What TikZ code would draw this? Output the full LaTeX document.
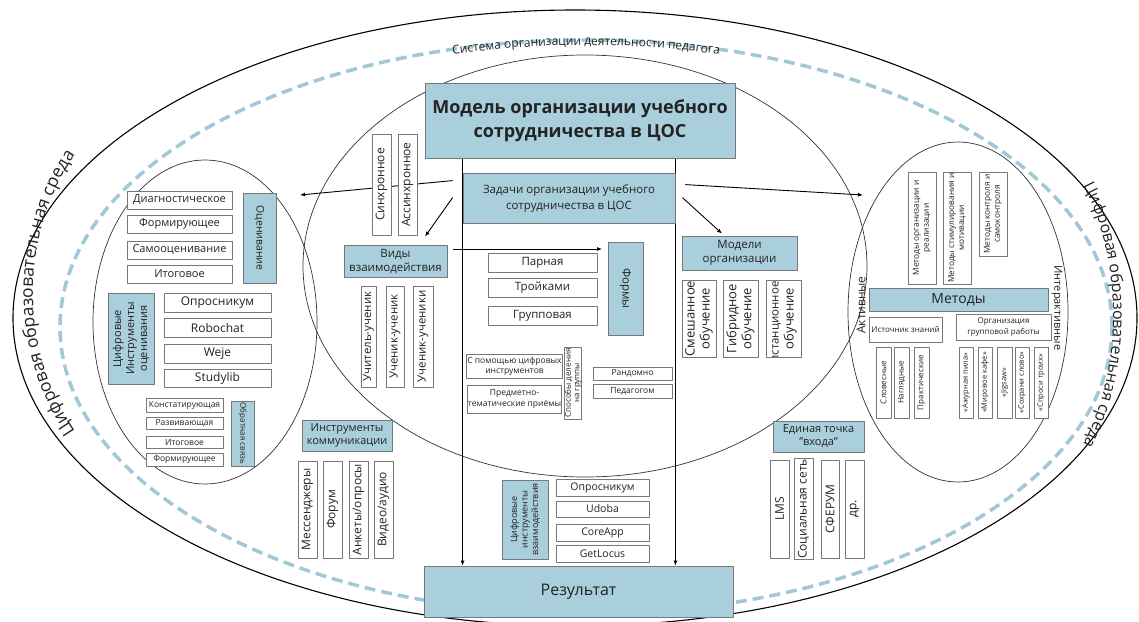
\documentclass[tikz,border=0pt]{standalone}
\usepackage{fontspec}
\setmainfont{Open Sans}
\usetikzlibrary{arrows.meta,calc,decorations.text}
\definecolor{lblue}{RGB}{170,207,220}
\definecolor{dashblue}{RGB}{160,200,215}
\definecolor{edge}{RGB}{120,120,120}
\definecolor{ink}{RGB}{35,35,35}
\pgfdeclarelayer{bg}
\pgfsetlayers{bg,main}

\newcommand\fsz[2]{\fontsize{#1}{#2}\selectfont}
% box given by its corners (x to the right, y downwards)
\newcommand\bx[7]{%
  \pgfmathsetmacro\bxcx{(#3+#5)/2}\pgfmathsetmacro\bxcy{-(#4+#6)/2}%
  \pgfmathsetmacro\bxw{#5-#3}\pgfmathsetmacro\bxh{#6-#4}%
  \node[#1, minimum width=\bxw pt, minimum height=\bxh pt] (#2) at (\bxcx,\bxcy) {#7};}
% upright box with turned text
\newcommand\vbx[8][90]{%
  \pgfmathsetmacro\bxcx{(#4+#6)/2}\pgfmathsetmacro\bxcy{-(#5+#7)/2}%
  \pgfmathsetmacro\bxw{#6-#4}\pgfmathsetmacro\bxh{#7-#5}%
  \node[#2, rotate=#1, minimum width=\bxh pt, minimum height=\bxw pt] (#3) at (\bxcx,\bxcy) {#8};}

\tikzset{
  wbox/.style={draw=edge, fill=white, line width=0.8pt, inner sep=0.5pt, align=center, text=ink},
  bbox/.style={draw=edge, fill=lblue, line width=0.8pt, inner sep=0.5pt, align=center, text=ink},
  arr/.style={line width=0.9pt, -{Latex[length=5pt,width=4pt]}},
  oval/.style={draw=black!80, line width=0.7pt},
}

\begin{document}
\begin{tikzpicture}[x=1pt,y=1pt,line join=round]
\useasboundingbox (0,0) rectangle (1139,-621);

% ---------- central model ----------
\bx{bbox, font=\fsz{18}{24}\bfseries}{title}{425}{83}{735}{158}{Модель организации учебного\\сотрудничества в ЦОС}
\bx{bbox, font=\fsz{11.5}{16}}{zad}{463}{173}{675}{223}{Задачи организации учебного\\сотрудничества в ЦОС}
\vbx{wbox, font=\fsz{12}{14}}{sync}{372}{134}{391}{235}{Синхронное}
\vbx{wbox, font=\fsz{12}{14}}{async}{398}{134}{417}{235}{Ассинхронное}
\bx{bbox, font=\fsz{11.5}{14}}{vidy}{344}{245}{447}{277}{Виды\\взаимодействия}
\vbx{wbox, font=\fsz{11.5}{13}}{uu1}{361}{286}{376}{387}{Учитель-ученик}
\vbx{wbox, font=\fsz{11.5}{13}}{uu2}{386}{286}{404}{387}{Ученик-ученик}
\vbx{wbox, font=\fsz{11.5}{13}}{uu3}{413}{286}{433}{387}{Ученик-ученики}
\vbx[-90]{bbox, font=\fsz{11.5}{13}}{formy}{608}{242}{643}{335}{Формы}
\bx{wbox, font=\fsz{11.5}{13}}{par}{488}{253}{597}{272}{Парная}
\bx{wbox, font=\fsz{11.5}{13}}{tro}{488}{278}{597}{297}{Тройками}
\bx{wbox, font=\fsz{11.5}{13}}{grp}{488}{306}{597}{325}{Групповая}
\bx{wbox, font=\fsz{8.5}{10}}{pom}{468}{354}{561}{378}{С помощью цифровых\\инструментов}
\bx{wbox, font=\fsz{8.5}{11}}{pred}{468}{385}{561}{413}{Предметно-\\тематические приёмы}
\vbx{wbox, font=\fsz{8}{8.5}}{spos}{565}{347}{581}{419}{Способы деления\\на группы}
\bx{wbox, font=\fsz{8.5}{10}}{rand}{593}{367}{672}{380}{Рандомно}
\bx{wbox, font=\fsz{8.5}{10}}{ped}{593}{384}{672}{398}{Педагогом}
\bx{bbox, font=\fsz{11.5}{14}}{model}{682}{236}{797}{270}{Модели\\организации}
\vbx{wbox, font=\fsz{13}{15}}{smesh}{682}{280}{716}{357}{Смешанное\\обучение}
\vbx{wbox, font=\fsz{13}{15}}{gibr}{723}{280}{758}{357}{Гибридное\\обучение}
% the long word is cut by the frame at its start
\vbx{wbox, path picture={\node[rotate=90, font=\fsz{11.5}{15}, align=center, text=ink]
    at (path picture bounding box.center) {\makebox[74pt][r]{Дистанционное}\\\fsz{13}{15}обучение};}}{dist}{766}{280}{801}{357}{}

% ---------- assessment ----------
\bx{wbox, font=\fsz{11}{13}}{diag}{127}{191}{232}{209}{Диагностическое}
\bx{wbox, font=\fsz{11}{13}}{form1}{127}{215}{232}{233}{Формирующее}
\bx{wbox, font=\fsz{11}{13}}{samo}{127}{241}{232}{259}{Самооценивание}
\bx{wbox, font=\fsz{11}{13}}{itog1}{127}{265}{232}{283}{Итоговое}
\vbx[-90]{bbox, font=\fsz{10.5}{12}}{ocen}{243}{193}{276}{283}{Оценивание}
\vbx{bbox, font=\fsz{11}{13}}{cifr}{108}{293}{154}{384}{Цифровые\\Инструменты\\оценивания}
\bx{wbox, font=\fsz{12}{14}}{opr1}{164}{293}{271}{312}{Опросникум}
\bx{wbox, font=\fsz{12}{14}}{robo}{164}{318}{271}{337}{Robochat}
\bx{wbox, font=\fsz{12}{14}}{weje}{164}{344}{271}{363}{Weje}
\bx{wbox, font=\fsz{12}{14}}{stud}{164}{369}{271}{387}{Studylib}
\bx{wbox, font=\fsz{8.5}{10}}{kons}{146}{398}{223}{412}{Констатирующая}
\bx{wbox, font=\fsz{8.5}{10}}{razv}{146}{417}{223}{429}{Развивающая}
\bx{wbox, font=\fsz{8.5}{10}}{itog2}{146}{436}{223}{448}{Итоговое}
\bx{wbox, font=\fsz{8.5}{10}}{form2}{146}{453}{223}{466}{Формирующее}
\vbx[-90]{bbox, font=\fsz{8}{10}}{obr}{231}{401}{254}{466}{Обратная связь}

% ---------- communication and result ----------
\bx{bbox, font=\fsz{11}{13}}{komm}{302}{420}{392}{451}{Инструменты\\коммуникации}
\vbx{wbox, font=\fsz{12}{14}}{mes}{298}{461}{317}{558}{Мессенджеры}
\vbx{wbox, font=\fsz{12}{14}}{forum}{323}{461}{342}{558}{Форум}
\vbx{wbox, font=\fsz{12}{14}}{ank}{349}{461}{368}{558}{Анкеты/опросы}
\vbx{wbox, font=\fsz{12}{14}}{vid}{374}{461}{393}{558}{Видео/аудио}
\vbx{bbox, font=\fsz{9}{10.5}}{cinstr}{502}{480}{548}{559}{Цифровые\\инструменты\\взаимодействия}
\bx{wbox, font=\fsz{10.5}{12}}{opr2}{556}{479}{649}{496}{Опросникум}
\bx{wbox, font=\fsz{10.5}{12}}{udo}{556}{501}{649}{517}{Udoba}
\bx{wbox, font=\fsz{10.5}{12}}{core}{556}{524}{649}{541}{CoreApp}
\bx{wbox, font=\fsz{10.5}{12}}{getl}{556}{545}{649}{562}{GetLocus}
\bx{bbox, font=\fsz{16}{18}}{res}{424}{566}{733}{617}{Результат}
\bx{bbox, font=\fsz{11}{13}}{edin}{773}{421}{864}{452}{Единая точка\\"входа"}
\vbx{wbox, font=\fsz{12}{14}}{lms}{770}{460}{789}{558}{LMS}
\vbx{wbox, font=\fsz{12}{14}}{soc}{794}{460}{813}{558}{Социальная сеть}
\vbx{wbox, font=\fsz{12}{14}}{sfer}{821}{460}{839}{558}{СФЕРУМ}
\vbx{wbox, font=\fsz{12}{14}}{dr}{845}{460}{864}{558}{др.}

% ---------- methods ----------
\vbx{wbox, font=\fsz{8.3}{10}}{mo1}{908}{172}{936}{284}{Методы организации и\\реализации}
\vbx{wbox, font=\fsz{8.3}{10}}{mo2}{943}{172}{971}{284}{Методы стимулирования и\\мотивации}
\vbx{wbox, font=\fsz{8.3}{10}}{mo3}{979}{172}{1007}{256}{Методы контроля и\\самоконтроля}
\bx{bbox, font=\fsz{14}{16}}{met}{869}{288}{1048}{311}{Методы}
\bx{wbox, font=\fsz{8}{10}}{ist}{869}{317}{942}{342}{Источник знаний}
\bx{wbox, font=\fsz{8}{10.5}}{org}{956}{314}{1051}{340}{Организация\\групповой работы}
\vbx{wbox, font=\fsz{8}{10}}{slov}{876}{347}{891}{418}{Словесные}
\vbx{wbox, font=\fsz{8}{10}}{nagl}{894}{347}{909}{418}{Наглядные}
\vbx{wbox, font=\fsz{8}{10}}{prak}{914}{347}{929}{418}{Практические}
\vbx{wbox, font=\fsz{7.5}{9}}{azh}{959}{347}{973}{418}{«Ажурная пила»}
\vbx{wbox, font=\fsz{7.5}{9}}{mir}{978}{347}{992}{418}{«Мировое кафе»}
\vbx{wbox, font=\fsz{7.5}{9}}{jig}{997}{347}{1012}{418}{«Jigsaw»}
\vbx{wbox, font=\fsz{7.5}{9}}{soh}{1015}{347}{1029}{418}{«Сохрани слово»}
\vbx{wbox, font=\fsz{7.5}{9}}{spr}{1034}{347}{1048}{418}{«Спроси троих»}
\node[rotate=90, text=ink, font=\fsz{12}{14}, inner sep=0] (akt) at (861,-305) {Активные};
\node[rotate=-90, text=ink, font=\fsz{11}{13}, inner sep=0] (inter) at (1057,-308) {Интерактивные};

% ---------- free ends of the connectors ----------
\coordinate (toassess) at (300,-195);
\coordinate (tomethods) at (863,-195);

\begin{pgfonlayer}{bg}
  \fill[white] (0,0) rectangle (1139,-621);
  % environment and teacher's system
  \draw[line width=1.1pt] (575,-318) ellipse [x radius=562, y radius=308];
  \draw[dashblue, line width=3.5pt, dash pattern=on 11pt off 6pt] (586,-327) ellipse [x radius=526, y radius=287];
  \path[decorate, decoration={text along path, text align=center, text color=ink,
      text={|\fsz{12}{12}|Система организации деятельности педагога}}]
    (586,-327) ++(115:515 and 282) arc[start angle=115, end angle=65, x radius=515, y radius=282];
  \path[decorate, decoration={text along path, text align=center, text color=ink,
      text={|\fsz{17.5}{17.5}|Цифровая образовательная среда}}]
    (213,-293) ++(250:180 and 215) arc[start angle=250, end angle=110, x radius=180, y radius=215];
  \path[decorate, decoration={text along path, text align=center, text color=ink,
      text={|\fsz{16}{16}|Цифровая образовательная среда}}]
    (993,-315) ++(70:120 and 196) arc[start angle=70, end angle=-70, x radius=120, y radius=196];
  % zones
  \draw[oval] (585,-266) ellipse [x radius=282, y radius=211];
  \draw[oval] (205,-322) ellipse [x radius=112, y radius=162];
  \draw[oval] (958,-312) ellipse [x radius=110, y radius=170];
  % connectors
  \draw[arr] (title.south -| zad.west) -- (res.north -| zad.west);
  \draw[arr] (title.south -| zad.east) -- (res.north -| zad.east);
  \draw[arr] ($(zad.north west)+(-10,-8)$) -- (toassess);
  \draw[arr] ($(zad.north west)+(-10,-25)$) -- ($(vidy.north)+(29.5,8)$);
  \draw[arr] ($(vidy.east)+(6,12)$) -- ($(formy.center)+(-23.5,39.5)$);
  \draw[arr] ($(zad.north east)+(10,-12)$) -- (tomethods);
  \draw[arr] ($(zad.north east)+(7,-25)$) -- ($(model.north)+(-17.5,2)$);
\end{pgfonlayer}
\end{tikzpicture}
\end{document}
